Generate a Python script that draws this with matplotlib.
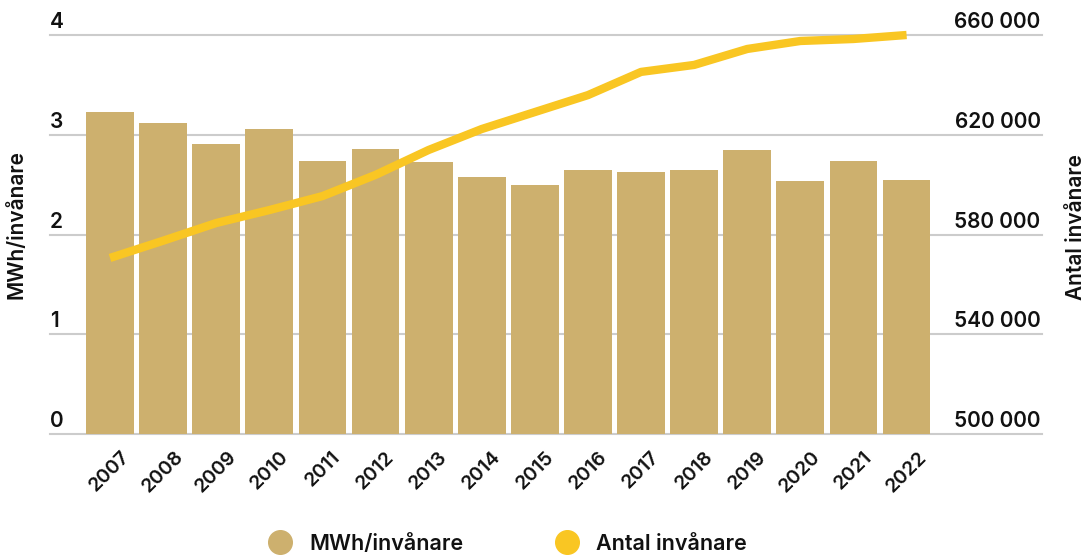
import matplotlib
matplotlib.use("Agg")
import matplotlib.pyplot as plt
from matplotlib.lines import Line2D
from matplotlib.transforms import blended_transform_factory, ScaledTranslation

plt.rcParams['font.family'] = ['Inter', 'DejaVu Sans']

years = ['2007', '2008', '2009', '2010', '2011', '2012', '2013', '2014',
         '2015', '2016', '2017', '2018', '2019', '2020', '2021', '2022']
mwh_per_inv = [3.23, 3.12, 2.91, 3.06, 2.74, 2.86, 2.73, 2.58,
               2.50, 2.65, 2.63, 2.65, 2.85, 2.54, 2.74, 2.55]
antal_inv = [570600, 577500, 584600, 589800, 595400, 603900, 613900, 622300,
             629100, 635900, 645200, 648000, 654400, 657600, 658400, 660000]

left_ticks = [0, 1, 2, 3, 4]
left_labels = ['0', '1', '2', '3', '4']
right_ticks = [500000, 540000, 580000, 620000, 660000]
right_labels = ['500 000', '540 000', '580 000', '620 000', '660 000']

bar_col = '#CDB06E'
line_col = '#F9C623'
grid_col = '#CCCCCC'
txt_col = '#111111'
wt = 'semibold'

W, H = 1087, 556
fig = plt.figure(figsize=(W / 100, H / 100), dpi=100)
ax = fig.add_axes([50 / W, 1 - 434 / H, 992 / W, 399 / H])

x = list(range(len(years)))
ax.bar(x, mwh_per_inv, width=0.9, color=bar_col, zorder=2)
ax.set_xlim(-1.13, 17.55)
ax.set_ylim(0, 4)

for t in left_ticks:
    ax.axhline(t, color=grid_col, lw=1.5, zorder=1, clip_on=False)

for s in ax.spines.values():
    s.set_visible(False)
ax.set_yticks([])
ax.set_xticks(x)
ax.set_xticklabels(years, rotation=45, ha='center', va='top',
                   fontsize=14, fontweight=wt, color=txt_col)
ax.tick_params(axis='x', length=0, pad=10)

up = ScaledTranslation(0, 5 / 72, fig.dpi_scale_trans)
trl = blended_transform_factory(ax.transAxes, ax.transData) + up
for t, lab in zip(left_ticks, left_labels):
    ax.text(0, t, lab, transform=trl, ha='left', va='baseline',
            fontsize=15, fontweight=wt, color=txt_col)

ax2 = ax.twinx()
ax2.set_ylim(500000, 660000)
ax2.plot(x, antal_inv, color=line_col, lw=6, solid_joinstyle='round',
         solid_capstyle='butt', clip_on=False, zorder=3)
for s in ax2.spines.values():
    s.set_visible(False)
ax2.set_yticks([])
trr = blended_transform_factory(ax2.transAxes, ax2.transData) + up
for t, lab in zip(right_ticks, right_labels):
    ax2.text(0.9985, t, lab, transform=trr, ha='right', va='baseline',
             fontsize=15, fontweight=wt, color=txt_col)

fig.text(17 / W, 1 - 225 / H, 'MWh/invånare', rotation=90, ha='center',
         va='center', fontsize=15, fontweight=wt, color=txt_col)
fig.text(1076 / W, 1 - 227 / H, 'Antal invånare', rotation=90, ha='center',
         va='center', fontsize=15, fontweight=wt, color=txt_col)

handles = [Line2D([], [], ls='none', marker='o', ms=17, color=bar_col),
           Line2D([], [], ls='none', marker='o', ms=17, color=line_col)]
fig.legend(handles, ['MWh/invånare', 'Antal invånare'], ncol=2, frameon=False,
           loc='center', bbox_to_anchor=(508 / W, 1 - 544 / H),
           prop={'size': 15.5, 'weight': wt}, handletextpad=0.85,
           columnspacing=4.3, handlelength=1.0, labelcolor=txt_col)

fig.savefig('out.png', dpi=100)
